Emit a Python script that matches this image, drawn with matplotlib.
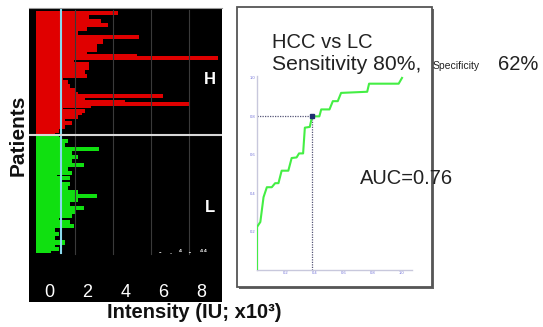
import matplotlib
matplotlib.use('Agg')
import matplotlib.pyplot as plt
from matplotlib.patches import Rectangle
import numpy as np

plt.rcParams['font.family'] = ['Liberation Sans', 'DejaVu Sans']

# intensity per patient (IU x10^3), top to bottom
red_vals = [4.2, 2.0, 2.7, 2.2, 3.3, 3.0, 3.7, 2.4, 2.6, 1.4, 2.1, 1.1, 5.3, 2.0, 3.4,
            2.2, 3.1, 2.0, 3.1, 1.4, 2.6, 5.2, 9.5, 1.4, 1.9, 2.7, 1.4, 2.7, 0.7, 2.5,
            1.4, 2.6, 1.3, 0.9, 1.6, 1.4, 1.7, 1.3, 2.0, 1.4, 2.1, 6.6, 2.2, 2.5, 4.6,
            8.0, 2.8, 1.3, 2.5, 2.3, 1.3, 2.1, 1.4, 1.1, 1.8, 1.2, 1.4, 0.9, 1.1, 0.9]
green_vals = [1.1, 1.2, 1.6, 1.1, 1.4, 1.2, 3.2, 1.3, 1.8, 1.2, 2.1, 1.3, 1.8, 1.1, 2.4,
              1.2, 1.6, 1.1, 1.8, 1.0, 1.7, 1.2, 1.1, 1.7, 1.0, 1.6, 1.2, 2.1, 1.1, 3.1,
              1.2, 2.1, 1.0, 1.7, 1.1, 2.4, 1.2, 2.0, 1.0, 1.8, 1.1, 1.0, 1.7, 1.0, 1.9,
              0.7, 0.9, 0.7, 1.1, 0.8, 0.9, 0.8, 1.4, 0.9, 0.8, 1.1, 0.7]
cutoff = 1.26
x_ticks = [0, 2, 4, 6, 8]

# ROC curve (1 - specificity, sensitivity)
roc_fpr = [0, 0, 0.023, 0.045, 0.068, 0.102, 0.125, 0.148, 0.17, 0.216, 0.239, 0.273,
           0.29, 0.318, 0.33, 0.364, 0.38, 0.43, 0.443, 0.5, 0.523, 0.557, 0.58, 0.76,
           0.773, 0.977, 1.0]
roc_tpr = [0, 0.224, 0.25, 0.379, 0.431, 0.431, 0.452, 0.452, 0.517, 0.517, 0.583, 0.586,
           0.607, 0.607, 0.741, 0.745, 0.8, 0.8, 0.836, 0.836, 0.879, 0.879, 0.922, 0.928,
           0.97, 0.97, 1.0]
op_fpr, op_tpr = 0.38, 0.80
roc_ticks = [0.2, 0.4, 0.6, 0.8, 1.0]

W, H = 543, 327
fig = plt.figure(figsize=(W / 100, H / 100), dpi=100)


def fx(px):
    return px / W


def fy(py):
    return 1 - py / H


# ---- left panel: bar chart per patient ----
ax = fig.add_axes([fx(29), fy(302), fx(222) - fx(29), fy(8) - fy(302)])
ax.set_facecolor('black')
n_r, n_g = len(red_vals), len(green_vals)
ax.barh(np.arange(n_r), red_vals, height=1.0, align='edge', color='#e00000', lw=0.3,
        edgecolor='#e00000', antialiased=False)
ax.barh(np.arange(n_g) + n_r + 1, green_vals, height=1.0, align='edge', color='#10e010',
        lw=0.3, edgecolor='#10e010', antialiased=False)
end_y = n_r + 1 + n_g
for g in x_ticks[1:]:
    ax.plot([g, g], [-1, end_y + 1], color='#3a3a3a', lw=0.8, zorder=1)
ax.plot([cutoff, cutoff], [-1, end_y + 0.5], color='#8ad8ec', lw=1.5, zorder=3)
ax.axhline(n_r + 0.5, color='#d8d8d8', lw=1.5, zorder=4)
ax.set_xlim(-0.42, 9.74)
ax.set_ylim(142.8, -2)
ax.set_xticks([])
ax.set_yticks([])
for s in ax.spines.values():
    s.set_visible(False)
ax.spines['top'].set_visible(True)
ax.spines['top'].set_color('#999999')
for v in x_ticks:
    ax.text(v + 0.65, 138, str(v), color='white', fontsize=13, ha='center', va='center')
ax.text(7.7, end_y + 0.3, '-    .   \u2074   -    \u2074\u2074', color='white', fontsize=5.5,
        fontweight='bold', ha='center', va='center')

fig.text(fx(210), fy(80), 'H', color='white', fontsize=12, fontweight='bold', ha='center', va='center')
fig.text(fx(210), fy(208), 'L', color='white', fontsize=12, fontweight='bold', ha='center', va='center')
fig.text(fx(18), fy(135), 'Patients', rotation=90, fontsize=15, fontweight='bold',
         ha='center', va='center', color='#111111')
fig.text(fx(194), fy(312), 'Intensity (IU; x10\u00b3)', fontsize=14.5, fontweight='bold',
         ha='center', va='center', color='#111111')

# ---- right panel: ROC ----
fig.patches.append(Rectangle((fx(239), fy(289)), fx(432) - fx(237), fy(7) - fy(287),
                             transform=fig.transFigure, facecolor='#666666', edgecolor='none',
                             zorder=-2))
fig.patches.append(Rectangle((fx(237), fy(287)), fx(432) - fx(237), fy(7) - fy(287),
                             transform=fig.transFigure, facecolor='white', edgecolor='#555555',
                             lw=1.3, zorder=-1))

rx = fig.add_axes([fx(257), fy(270), fx(412) - fx(257), fy(76) - fy(270)])
rx.patch.set_alpha(0)
rx.plot(roc_fpr, roc_tpr, color='#44ee44', lw=1.5, zorder=3)
rx.plot([0, op_fpr], [op_tpr, op_tpr], color='#555577', lw=0.9, ls=(0, (1, 1)), zorder=2)
rx.plot([op_fpr, op_fpr], [0, op_tpr], color='#555577', lw=0.9, ls=(0, (1, 1)), zorder=2)
rx.plot([op_fpr], [op_tpr], 's', ms=2.5, color='#203070', zorder=4)
rx.set_xlim(0, 1.069)
rx.set_ylim(0, 1.01)
rx.set_xticks(roc_ticks)
rx.set_yticks(roc_ticks)
rx.set_xticklabels([f'{t:.1f}' for t in roc_ticks])
rx.set_yticklabels([f'{t:.1f}' for t in roc_ticks])
rx.tick_params(length=0, labelsize=3, labelcolor='#7070d8', pad=1)
for s in ['top', 'right']:
    rx.spines[s].set_visible(False)
for s in ['left', 'bottom']:
    rx.spines[s].set_color('#c8c8dc')
    rx.spines[s].set_linewidth(1.0)

fig.text(fx(272), fy(42), 'HCC vs LC', fontsize=14.5, color='#222222', va='center')
fig.text(fx(272), fy(65), 'Sensitivity 80%,', fontsize=15.2, color='#222222', va='center')
fig.text(fx(433), fy(66), 'Specificity', fontsize=7.5, color='#222222', va='center')
fig.text(fx(498), fy(65), '62%', fontsize=14.5, color='#222222', va='center')
fig.text(fx(360), fy(178), 'AUC=0.76', fontsize=14.5, color='#222222', va='center')

fig.savefig('out.png', dpi=100, facecolor='white')
